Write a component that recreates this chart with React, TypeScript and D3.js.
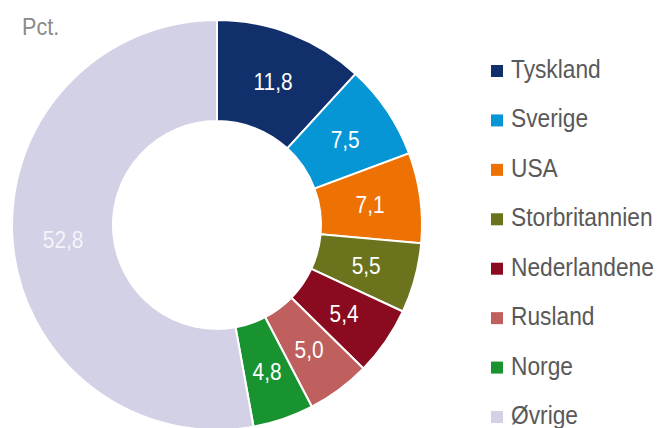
import React from "react";
import * as d3 from "d3";

const categories = ["Tyskland", "Sverige", "USA", "Storbritannien", "Nederlandene", "Rusland", "Norge", "Øvrige"];
const values = [11.8, 7.5, 7.1, 5.5, 5.4, 5.0, 4.8, 52.8];
const labels = ["11,8", "7,5", "7,1", "5,5", "5,4", "5,0", "4,8", "52,8"];
const colors = ["#11306b", "#0796d5", "#ee7203", "#6b731d", "#8a0b1f", "#c0605e", "#189330", "#d3d1e5"];
const unitLabel = "Pct.";

const W = 657;
const H = 428;
const cx = 217;
const cy = 225;
const outerR = 205;
const innerR = 104;

export default function App() {
  const data = categories.map((c, i) => ({ c, v: values[i], label: labels[i], color: colors[i] }));
  const pie = d3.pie<any>().value((d: any) => d.v).sort(null);
  const arcs = pie(data);
  const arc = d3.arc<any>().innerRadius(innerR).outerRadius(outerR);
  const legendY = d3.scaleLinear().domain([0, categories.length - 1]).range([71, 417]);

  return (
    <svg width={W} height={H} style={{ position: "absolute", left: 0, top: 0, background: "#fff" }}
      fontFamily="'Liberation Sans', Arial, sans-serif">
      <g transform="translate(22,35) scale(0.9,1)">
        <text fontSize={24} fill="#8a8a8a">{unitLabel}</text>
      </g>
      <g transform={`translate(${cx},${cy})`}>
        {arcs.map((a, i) => (
          <path key={i} d={arc(a) as string} fill={a.data.color} stroke="#ffffff" strokeWidth={2} />
        ))}
        {arcs.map((a, i) => {
          const [x, y] = arc.centroid(a);
          return (
            <g key={"l" + i} transform={`translate(${x},${y + 9}) scale(0.87,1)`}>
              <text textAnchor="middle" fontSize={24} fill={i === 7 ? "#f4f4fa" : "#ffffff"}>{a.data.label}</text>
            </g>
          );
        })}
      </g>
      <g>
        {categories.map((c, i) => {
          const y = legendY(i);
          return (
            <g key={c}>
              <rect x={491} y={y - 6} width={12} height={12} fill={colors[i]} />
              <g transform={`translate(511,${y + 7}) scale(0.91,1)`}>
                <text fontSize={25} fill="#595959">{c}</text>
              </g>
            </g>
          );
        })}
      </g>
    </svg>
  );
}
